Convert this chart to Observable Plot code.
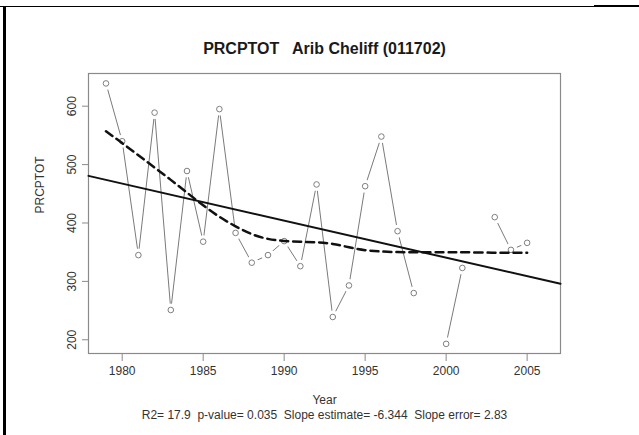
<!DOCTYPE html>
<html>
<head>
<meta charset="utf-8">
<script src="https://cdn.jsdelivr.net/npm/d3@7"></script>
<script src="https://cdn.jsdelivr.net/npm/@observablehq/plot@0.6"></script>
<style>
  html, body { margin: 0; padding: 0; background: #fff; }
  #wrap { position: relative; width: 639px; height: 435px; overflow: hidden; }
  #wrap svg text { white-space: pre; }
  .rule { position: absolute; background: #000; }
</style>
</head>
<body>
<div id="wrap">
  <div class="rule" style="left:0;top:6px;width:594px;height:1px;"></div>
  <div class="rule" style="left:594px;top:5px;width:45px;height:2px;"></div>
  <div class="rule" style="left:3px;top:7px;width:3px;height:428px;"></div>
</div>
<script>
const years  = [1979,1980,1981,1982,1983,1984,1985,1986,1987,1988,1989,1990,1991,1992,1993,1994,1995,1996,1997,1998,1999,2000,2001,2002,2003,2004,2005];
const prcptot = [639,540,345,589,251,489,368,595,383,332,345,369,326,466,239,293,463,548,386,280,null,193,323,null,410,354,366];
const loessYears  = [1979,1980,1981,1982,1983,1984,1985,1986,1987,1988,1989,1990,1991,1992,1993,1994,1995,1996,1997,1998,2000,2001,2003,2004,2005];
const loessValues = [557,537,516,495,474,452,430,410,394,380,372,369,368,367,365,358,353,351,350,350,350,350,349,349,349];
const xTicks = [1980,1985,1990,1995,2000,2005];
const yTicks = [200,300,400,500,600];
const title = "PRCPTOT   Arib Cheliff (011702)";
const xLabel = "Year";
const yLabel = "PRCPTOT";
const stats = {r2: "17.9", p: "0.035", slope: -6.344, slopeError: "2.83"};
const caption = `R2= ${stats.r2}  p-value= ${stats.p}  Slope estimate= ${stats.slope}  Slope error= ${stats.slopeError}`;

const series = years.map((y, i) => ({year: y, value: prcptot[i]}));
const obs = series.filter(d => d.value != null);
const loess = loessYears.map((y, i) => ({year: y, value: loessValues[i]}));

const xDomain = [1977.92, 2007.06];
const yDomain = [176.5, 656];

// regression line through the mean point with the reported slope
const mx = d3.mean(obs, d => d.year), my = d3.mean(obs, d => d.value);
const trend = xDomain.map(x => ({year: x, value: my + stats.slope * (x - mx)}));

const font = "Liberation Sans, Arial, sans-serif";
const txt = "#333";

const chart = Plot.plot({
  width: 639,
  height: 435,
  marginLeft: 88,
  marginRight: 79,
  marginTop: 73,
  marginBottom: 82,
  style: {fontFamily: font, fontSize: "12px", color: txt, background: "transparent", overflow: "visible"},
  x: {domain: xDomain},
  y: {domain: yDomain},
  marks: [
    Plot.frame({stroke: "#8a8a8a", strokeWidth: 1.2}),
    Plot.axisX({ticks: xTicks, tickSize: 8, tickPadding: 5, tickFormat: d => String(d), stroke: "#8a8a8a", fill: txt, fontSize: 12, label: null}),
    Plot.axisY({ticks: yTicks, tickSize: 6, tickFormat: () => "", stroke: "#8a8a8a", label: null}),
    Plot.text(yTicks, {x: xDomain[0], y: d => d, text: d => String(d), rotate: -90, dx: -16, fill: txt, fontSize: 12, textAnchor: "middle"}),
    Plot.line(series, {x: "year", y: "value", stroke: "#7a7a7a", strokeWidth: 1}),
    Plot.dot(obs, {x: "year", y: "value", r: 6.5, fill: "white", stroke: "none"}),
    Plot.dot(obs, {x: "year", y: "value", r: 2.8, fill: "none", stroke: "#7f7f7f", strokeWidth: 1}),
    Plot.line(trend, {x: "year", y: "value", stroke: "#111", strokeWidth: 2}),
    Plot.line(loess, {x: "year", y: "value", stroke: "#111", strokeWidth: 2.5, strokeDasharray: "8,5", curve: "basis"}),
    Plot.text([title], {frameAnchor: "top", dy: -31, fontWeight: "bold", fontSize: 16, fill: "#1a1a1a"}),
    Plot.text([xLabel], {frameAnchor: "bottom", dy: 50, fontSize: 12, fill: txt}),
    Plot.text([caption], {frameAnchor: "bottom", dy: 65, fontSize: 12, fill: txt}),
    Plot.text([yLabel], {frameAnchor: "left", dx: -48, rotate: -90, fontSize: 12, fill: txt})
  ]
});
chart.style.position = "absolute";
chart.style.left = "0";
chart.style.top = "0";
document.getElementById("wrap").appendChild(chart);
</script>
</body>
</html>
